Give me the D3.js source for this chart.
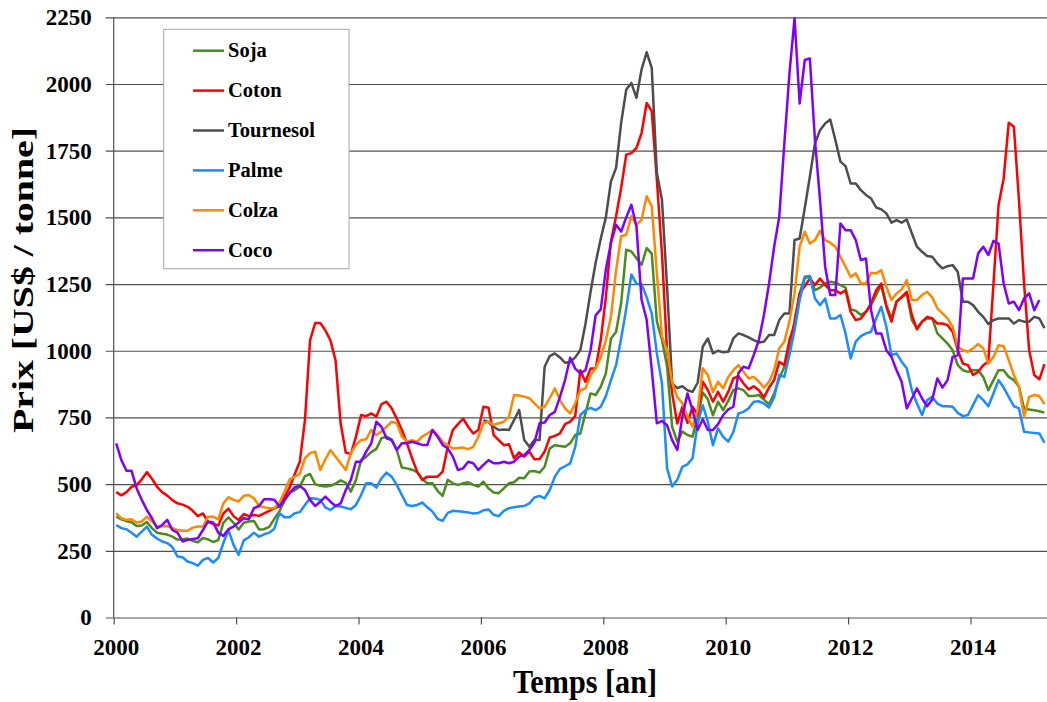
<!DOCTYPE html>
<meta charset="utf-8">
<style>
body { margin: 0; background: #fff; }
svg text { font-family: "Liberation Serif", "Times New Roman", serif; font-weight: bold; fill: #000; }
</style>
<body>
<div id="chart"></div>
</body>
<script src="https://d3js.org/d3.v7.min.js"></script>
<script>
// monthly prices, Jan 2000 .. Mar 2015 (US$ / tonne)
var startYear = 2000;

var soja = [
  378,368,361,357,343,345,358,335,318,314,
  311,303,292,293,296,287,282,298,293,283,
  290,355,375,355,330,355,360,362,330,331,
  340,370,398,438,468,477,490,530,538,500,
  494,491,494,502,514,505,472,515,590,602,
  620,632,672,678,668,628,562,559,554,545,
  518,503,503,475,456,516,503,497,503,507,
  497,491,509,484,469,466,484,503,507,524,
  522,547,549,543,565,634,646,643,640,653,
  684,690,765,840,834,865,915,1046,1070,1179,
  1379,1372,1347,1322,1385,1364,1110,1041,941,715,
  659,697,684,678,753,843,818,758,809,777,
  812,852,859,852,830,830,834,817,799,840,
  896,940,1002,1115,1215,1277,1280,1227,1237,1252,
  1259,1255,1246,1237,1155,1150,1134,1146,1171,1209,
  1246,1171,1121,1184,1200,1215,1115,1084,1109,1121,
  1121,1065,1046,1027,1002,946,927,921,927,927,
  902,852,890,927,927,902,890,865,784,780,
  777,773,768
];

var coton = [
  470,458,470,490,496,518,545,520,490,470,
  457,440,428,423,415,400,380,390,358,351,
  345,390,408,380,365,388,380,384,381,390,
  400,409,417,452,488,538,585,740,1039,1104,
  1104,1077,1039,964,727,618,613,678,759,755,
  765,753,800,809,784,746,703,653,597,547,
  516,528,528,528,547,640,703,725,746,715,
  690,703,790,786,684,665,646,650,597,619,
  603,622,593,594,622,675,681,690,725,734,
  755,927,883,933,933,1040,1200,1410,1504,1610,
  1735,1741,1760,1816,1929,1898,1641,1366,1000,840,
  727,790,730,790,760,884,852,809,846,809,
  846,896,905,877,855,867,852,825,862,890,
  959,946,1040,1100,1215,1242,1271,1246,1271,1246,
  1227,1227,1215,1227,1146,1115,1121,1146,1177,1227,
  1252,1165,1109,1184,1202,1221,1134,1080,1109,1127,
  1121,1102,1102,1096,1071,1002,952,946,909,921,
  946,960,1250,1546,1646,1855,1840,1565,1252,1002,
  909,893,950
];

var tournesol = [
  null,null,null,null,null,null,null,null,null,null,
  null,null,null,null,null,null,null,null,null,null,
  null,null,null,null,null,null,null,null,null,null,
  null,null,null,null,null,null,null,null,null,null,
  null,null,null,null,null,null,null,null,null,null,
  null,null,null,null,null,null,null,null,null,null,
  null,null,null,null,null,null,null,null,null,null,
  null,null,740,732,715,703,705,703,740,778,
  665,640,665,665,940,980,990,975,955,958,
  975,1003,1100,1220,1330,1420,1500,1635,1685,1854,
  1979,2004,1948,2054,2119,2060,1666,1566,1241,877,
  860,867,852,846,880,1015,1046,990,1000,994,
  996,1046,1065,1059,1050,1040,1031,1034,1059,1059,
  1115,1140,1140,1415,1421,1534,1652,1777,1827,1852,
  1867,1790,1709,1692,1627,1627,1602,1584,1571,1537,
  1530,1515,1480,1490,1480,1492,1440,1390,1371,1355,
  1352,1327,1309,1317,1321,1296,1184,1184,1171,1146,
  1127,1100,1115,1121,1121,1121,1102,1115,1109,1109,
  1127,1121,1085
];

var palme = [
  347,335,331,318,303,322,341,310,296,285,
  279,264,229,226,210,204,194,216,223,206,
  223,279,328,272,235,289,301,318,303,312,
  318,333,391,376,376,391,395,422,447,446,
  441,413,403,418,416,411,406,422,459,503,
  503,487,522,543,528,497,459,422,418,422,
  431,413,397,370,362,392,400,398,396,394,
  390,392,402,405,385,380,400,410,413,416,
  418,428,450,456,447,478,528,557,567,578,
  640,759,777,786,777,790,830,890,946,1046,
  1158,1286,1251,1249,1201,1139,990,877,560,491,
  516,565,574,597,728,796,734,646,709,677,
  659,696,765,771,784,809,811,802,787,825,
  909,902,984,1077,1190,1271,1280,1196,1171,1196,
  1121,1121,1134,1065,971,1034,1055,1065,1071,1121,
  1165,1090,984,990,959,934,852,802,759,815,
  827,802,792,792,790,767,755,759,796,834,
  815,792,840,890,862,827,792,784,696,694,
  692,690,655
];

var colza = [
  391,372,366,368,356,360,378,360,341,341,
  343,335,328,325,325,337,341,341,378,378,
  368,428,451,441,435,456,459,447,418,413,
  410,410,431,472,518,528,538,597,616,622,
  553,593,628,603,578,553,616,647,665,668,
  703,684,697,715,734,728,678,659,665,659,
  678,690,703,684,659,645,634,635,637,631,
  640,678,728,734,722,728,734,753,834,832,
  828,822,803,784,790,822,859,815,784,765,
  803,852,859,909,934,977,1039,1127,1300,1429,
  1435,1504,1472,1491,1579,1541,1291,1054,1004,880,
  827,803,753,715,777,934,909,846,884,859,
  902,927,946,921,896,902,884,862,884,927,
  1009,1034,1110,1215,1390,1446,1402,1415,1450,1415,
  1405,1390,1352,1315,1277,1290,1252,1252,1292,1290,
  1302,1240,1190,1215,1230,1265,1190,1190,1209,1221,
  1200,1159,1140,1121,1090,1015,1002,996,1009,1025,
  1009,952,977,1021,1017,965,909,865,752,827,
  834,830,800
];

var coco = [
  653,590,550,550,484,441,403,372,335,347,
  366,328,318,285,291,294,297,328,360,356,
  318,306,331,341,356,372,368,410,418,443,
  443,441,416,441,466,488,493,478,441,418,
  434,453,434,418,428,478,516,584,584,622,
  653,734,715,672,665,628,653,653,659,653,
  647,647,703,678,647,634,603,553,559,584,
  578,553,572,590,578,578,584,578,584,603,
  609,628,656,728,731,759,771,827,890,974,
  933,915,927,1002,1133,1155,1304,1404,1472,1447,
  1500,1547,1466,1191,1116,929,728,737,721,665,
  628,753,840,777,703,743,703,703,725,759,
  780,790,917,940,934,984,1040,1134,1252,1390,
  1502,1777,2040,2246,1927,2090,2096,1790,1565,1315,
  1209,1209,1477,1452,1452,1415,1340,1346,1152,1065,
  1065,1002,977,927,884,784,821,859,821,792,
  817,896,862,890,977,984,1271,1271,1271,1365,
  1390,1359,1412,1402,1252,1177,1184,1152,1196,1215,
  1152,1190,null
];

var seriesNames = ["Soja", "Coton", "Tournesol", "Palme", "Colza", "Coco"];
var seriesValues = [soja, coton, tournesol, palme, colza, coco];
var seriesColors = ["#4b8b1d", "#ff0000", "#4d4d4d", "#1a8cff", "#ff8800", "#8000ff"];

var yTicks = [0, 250, 500, 750, 1000, 1250, 1500, 1750, 2000, 2250];
var xTicks = [2000, 2002, 2004, 2006, 2008, 2010, 2012, 2014];

var width = 1047,
    height = 702;

var x = d3.scaleLinear().domain([2000, 2015.25]).range([113.7, 1047]);
var y = d3.scaleLinear().domain([0, 2250]).range([617.5, 17.3]);

var svg = d3.select("#chart").append("svg")
  .attr("width", width)
  .attr("height", height);

svg.append("rect").attr("width", width).attr("height", height).attr("fill", "#fff");

// gridlines + y axis
var yAxis = d3.axisLeft(y)
  .tickValues(yTicks)
  .tickSize(-(1047 - 113.7))
  .tickPadding(14)
  .tickFormat(d3.format("d"));

var gy = svg.append("g")
  .attr("transform", "translate(113.7,0)")
  .call(yAxis);
gy.select(".domain").remove();
gy.selectAll(".tick line").attr("stroke", "#505050").attr("stroke-width", 1.2).attr("x1", -8);
gy.selectAll(".tick text")
  .attr("font-size", 23)
  .attr("x", -22);

svg.append("line")
  .attr("x1", 113.7).attr("x2", 113.7)
  .attr("y1", y(2250)).attr("y2", y(0))
  .attr("stroke", "#505050").attr("stroke-width", 1.2);

// x axis
var xAxis = d3.axisBottom(x)
  .tickValues(xTicks)
  .tickSize(7)
  .tickPadding(14)
  .tickFormat(d3.format("d"));

var gx = svg.append("g")
  .attr("transform", "translate(0," + y(0) + ")")
  .call(xAxis);
gx.select(".domain").remove();
gx.selectAll(".tick line").attr("stroke", "#505050").attr("stroke-width", 1.2);
gx.selectAll(".tick text")
  .attr("font-size", 23)
  .attr("dx", 2);

// series lines
var line = d3.line()
  .defined(function(d) { return d != null; })
  .x(function(d, i) { return x(startYear + (i + 0.5) / 12); })
  .y(function(d) { return y(d); });

svg.append("g").selectAll("path")
  .data(seriesValues)
  .enter().append("path")
  .attr("d", line)
  .attr("fill", "none")
  .attr("stroke", function(d, i) { return seriesColors[i]; })
  .attr("stroke-width", 2.5)
  .attr("stroke-linejoin", "round");

// axis titles
svg.append("text")
  .attr("x", 585)
  .attr("y", 693)
  .attr("text-anchor", "middle")
  .attr("font-size", 34)
  .attr("textLength", 144)
  .attr("lengthAdjust", "spacingAndGlyphs")
  .text("Temps [an]");

svg.append("text")
  .attr("transform", "translate(33,280) rotate(-90)")
  .attr("text-anchor", "middle")
  .attr("font-size", 30)
  .attr("textLength", 306)
  .attr("lengthAdjust", "spacingAndGlyphs")
  .text("Prix [US$ / tonne]");

// legend
var legend = svg.append("g");
legend.append("rect")
  .attr("x", 163.7).attr("y", 29.3)
  .attr("width", 185.3).attr("height", 239.4)
  .attr("fill", "#fff")
  .attr("stroke", "#a6a6a6")
  .attr("stroke-width", 1);

var item = legend.selectAll("g.item")
  .data(seriesNames)
  .enter().append("g")
  .attr("class", "item")
  .attr("transform", function(d, i) { return "translate(0," + (50.7 + i * 39.9) + ")"; });

item.append("line")
  .attr("x1", 193).attr("x2", 224)
  .attr("stroke", function(d, i) { return seriesColors[i]; })
  .attr("stroke-width", 2.5);

item.append("text")
  .attr("x", 228)
  .attr("y", 6.5)
  .attr("font-size", 20.5)
  .text(function(d) { return d; });
</script>
